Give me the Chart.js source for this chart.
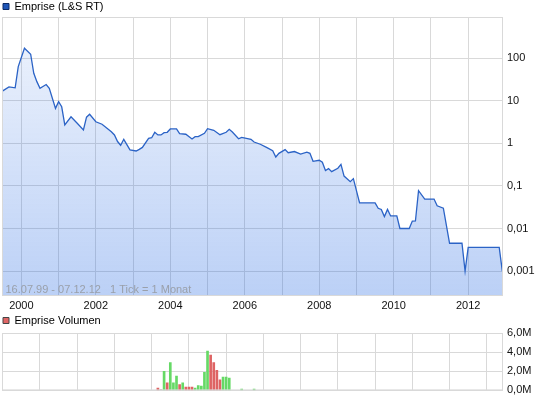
<!DOCTYPE html>
<html><head><meta charset="utf-8">
<script src="https://cdn.jsdelivr.net/npm/chart.js@4/dist/chart.umd.min.js"></script>
<style>
html,body{margin:0;padding:0;background:#fff;}
#wrap{position:relative;width:545px;height:401px;overflow:hidden;background:#fff;}
#c1{position:absolute;left:0;top:0;}
#c2{position:absolute;left:0;top:314px;}
</style></head><body>
<div id="wrap"><canvas id="c1" width="545" height="312"></canvas><canvas id="c2" width="545" height="87"></canvas></div>
<script>
// ---------- data ----------
const priceName = 'Emprise (L&S RT)';
const volumeName = 'Emprise Volumen';
const rangeNote = '16.07.99 - 07.12.12   1 Tick = 1 Monat';

const priceDates = ['1999-07','1999-09','1999-11','1999-12','2000-02','2000-04','2000-05','2000-06','2000-07','2000-09','2000-10','2000-12',
  '2001-01','2001-02','2001-03','2001-05','2001-07','2001-09','2001-10','2001-11','2002-01','2002-03','2002-06','2002-07','2002-08','2002-09',
  '2002-10','2002-12','2003-02','2003-03','2003-04','2003-06','2003-07','2003-08','2003-09','2003-10','2003-11','2003-12','2004-01','2004-03',
  '2004-04','2004-06','2004-08','2004-09','2004-10','2004-12','2005-01','2005-03','2005-05','2005-07','2005-08','2005-09','2005-11','2005-12',
  '2006-03','2006-04','2006-06','2006-08','2006-10','2006-11','2006-12','2007-02','2007-03','2007-05','2007-07','2007-09','2007-10','2007-11',
  '2008-01','2008-02','2008-03','2008-04','2008-05','2008-07','2008-08','2008-09','2008-11','2008-12','2009-02','2009-07','2009-08','2009-09',
  '2009-10','2009-11','2009-12','2010-02','2010-03','2010-06','2010-07','2010-08','2010-09','2010-11','2011-02','2011-03','2011-05','2011-07',
  '2011-11','2011-12','2012-01','2012-11','2012-12'];
const priceValues = [17,21,20,63,170,123,44,28,19.5,24,19.5,6.6,
  9.5,7.2,2.7,4.2,2.95,2.05,4.1,4.8,3.2,2.8,1.87,1.57,1.1,0.9,
  1.24,0.70,0.66,0.72,0.80,1.31,1.35,1.81,1.57,1.57,1.77,1.81,2.17,2.17,
  1.68,1.63,1.26,1.43,1.43,1.72,2.2,2.02,1.59,1.81,2.13,1.84,1.28,1.38,
  1.24,1.07,0.95,0.80,0.67,0.476,0.58,0.71,0.60,0.64,0.56,0.62,0.58,0.377,
  0.40,0.358,0.23,0.254,0.216,0.26,0.32,0.17,0.126,0.148,0.040,0.040,0.0298,0.028,
  0.019,0.028,0.0197,0.0197,0.010,0.010,0.0149,0.015,0.077,0.049,0.049,0.034,0.030,0.0045,
  0.0045,0.001,0.0036,0.0036,0.001];

const volumeDates = ['2003-09','2003-10','2003-11','2003-12','2004-01','2004-02','2004-03','2004-04','2004-05','2004-06','2004-07','2004-08',
  '2004-09','2004-10','2004-11','2004-12','2005-01','2005-02','2005-03','2005-04','2005-05','2005-06','2005-07','2005-08','2005-12','2006-04'];
const volumeValues = [250000,100000,2000000,800000,2900000,800000,1500000,600000,800000,350000,350000,350000,
  250000,500000,450000,1900000,4100000,3700000,2900000,2100000,1100000,1400000,1400000,1300000,150000,150000];
const volumeDirection = ['down','flat','up','down','up','up','up','down','up','down','down','down',
  'up','up','up','up','up','down','down','down','down','up','up','up','up','up'];

const yearTicks = [2000,2001,2002,2003,2004,2005,2006,2007,2008,2009,2010,2011,2012];
const yearLabels = ['2000','2002','2004','2006','2008','2010','2012'];
const priceTicks = [100,10,1,0.1,0.01,0.001];
const priceTickLabels = ['100','10','1','0,1','0,01','0,001'];
const volumeTicks = [0,2000000,4000000,6000000];
const volumeTickLabels = ['0,0M','2,0M','4,0M','6,0M'];

const axisStart = 1999.48, axisEnd = 2012.935;
const priceMin = 0.00026, priceMax = 922;
const volumeMax = 6000000;

// ---------- helpers ----------
function toYear(s){ const [y,m] = s.split('-').map(Number); return y + (m-1)/12; }

Chart.defaults.font.family = '"Liberation Sans", Arial, sans-serif';
Chart.defaults.font.size = 11;
Chart.defaults.color = '#111';

const GRID = '#d9d9d9';

const legendFix = {
  id: 'legendFix',
  beforeLayout(chart, args, opts) {
    const lg = chart.legend;
    if (lg && !lg.__fixed) {
      const orig = lg.fit;
      lg.fit = function(){ orig.call(this); this.height = opts.height; };
      lg.__fixed = true;
    }
  }
};
const frame = {
  id: 'frame',
  afterDatasetsDraw(chart) {
    const a = chart.chartArea, c = chart.ctx;
    c.save(); c.strokeStyle = GRID; c.lineWidth = 1;
    c.strokeRect(a.left + 0.5, a.top + 0.5, a.right - a.left - 1, a.bottom - a.top - 1);
    c.restore();
  }
};
const note = {
  id: 'note',
  afterDatasetsDraw(chart, args, opts) {
    if (!opts.text) return;
    const a = chart.chartArea, c = chart.ctx;
    c.save(); c.fillStyle = '#9aa0aa'; c.font = '11px "Liberation Sans", Arial, sans-serif';
    c.textBaseline = 'alphabetic'; c.textAlign = 'left';
    c.fillText(opts.text, a.left + 3.5, a.bottom - 3);
    c.restore();
  }
};

// ---------- price chart ----------
new Chart(document.getElementById('c1'), {
  type: 'line',
  data: { datasets: [{
    label: priceName,
    data: priceDates.map((d,i) => ({x: toYear(d), y: priceValues[i]})),
    borderColor: '#2b63c6', borderWidth: 1.3, pointRadius: 0, tension: 0, fill: 'start',
    backgroundColor: (ctx) => {
      const a = ctx.chart.chartArea;
      if (!a) return 'rgba(30,100,225,0.15)';
      const g = ctx.chart.ctx.createLinearGradient(0, a.top, 0, a.bottom);
      g.addColorStop(0, 'rgba(30,100,225,0.07)');
      g.addColorStop(1, 'rgba(30,100,225,0.30)');
      return g;
    }
  }]},
  options: {
    responsive: false, animation: false, devicePixelRatio: 1,
    layout: { padding: { left: 2, right: 0, top: 0, bottom: 0 } },
    plugins: {
      legendFix: { height: 17 },
      note: { text: rangeNote },
      tooltip: { enabled: false },
      legend: { position: 'top', align: 'start',
        labels: { boxWidth: 6, boxHeight: 6, padding: 1, color: '#111', font: { size: 11 },
          generateLabels: () => [{ text: priceName, fillStyle: '#1f56b8', strokeStyle: '#0d2a66', lineWidth: 1, hidden: false, datasetIndex: 0 }] } }
    },
    scales: {
      x: { type: 'linear', min: axisStart, max: axisEnd, position: 'bottom',
        afterBuildTicks: s => { s.ticks = yearTicks.map(v => ({value: v})); },
        afterFit: s => { s.height = 16; },
        grid: { color: GRID, drawTicks: false }, border: { display: false },
        ticks: { autoSkip: false, maxRotation: 0, padding: 3, color: '#111',
          callback: v => yearLabels.includes(String(v)) ? String(v) : '' } },
      y: { type: 'logarithmic', position: 'right', min: priceMin, max: priceMax,
        afterBuildTicks: s => { s.ticks = priceTicks.map(v => ({value: v})); },
        afterFit: s => { s.width = 42; },
        grid: { color: GRID, drawTicks: false }, border: { display: false },
        ticks: { padding: 4, color: '#111', callback: v => { const i = priceTicks.indexOf(v); return i >= 0 ? priceTickLabels[i] : ''; } } }
    }
  },
  plugins: [legendFix, frame, note]
});

// ---------- volume chart ----------
const dirColor = { up: '#66d966', down: '#de6464', flat: '#bbbbbb' };
new Chart(document.getElementById('c2'), {
  type: 'bar',
  data: { datasets: [{
    label: volumeName,
    data: volumeDates.map((d,i) => ({x: toYear(d), y: volumeValues[i]})),
    backgroundColor: volumeDirection.map(d => dirColor[d]),
    barThickness: 2, borderWidth: 0
  }]},
  options: {
    responsive: false, animation: false, devicePixelRatio: 1,
    layout: { padding: { left: 2, right: 0, top: 0, bottom: 0 } },
    plugins: {
      legendFix: { height: 19 },
      note: { text: '' },
      tooltip: { enabled: false },
      legend: { position: 'top', align: 'start',
        labels: { boxWidth: 6, boxHeight: 6, padding: 1, color: '#111', font: { size: 11 },
          generateLabels: () => [{ text: volumeName, fillStyle: '#e06666', strokeStyle: '#444444', lineWidth: 1, hidden: false, datasetIndex: 0 }] } }
    },
    scales: {
      x: { type: 'linear', offset: false, min: axisStart, max: axisEnd, position: 'bottom',
        afterBuildTicks: s => { s.ticks = yearTicks.map(v => ({value: v})); },
        afterFit: s => { s.height = 10; },
        grid: { color: GRID, drawTicks: false }, border: { display: false },
        ticks: { display: false } },
      y: { type: 'linear', position: 'right', min: 0, max: volumeMax,
        afterBuildTicks: s => { s.ticks = volumeTicks.map(v => ({value: v})); },
        afterFit: s => { s.width = 42; },
        grid: { color: GRID, drawTicks: false }, border: { display: false },
        ticks: { padding: 4, color: '#111', callback: v => { const i = volumeTicks.indexOf(v); return i >= 0 ? volumeTickLabels[i] : ''; } } }
    }
  },
  plugins: [legendFix, frame, note]
});
</script>
</body></html>
